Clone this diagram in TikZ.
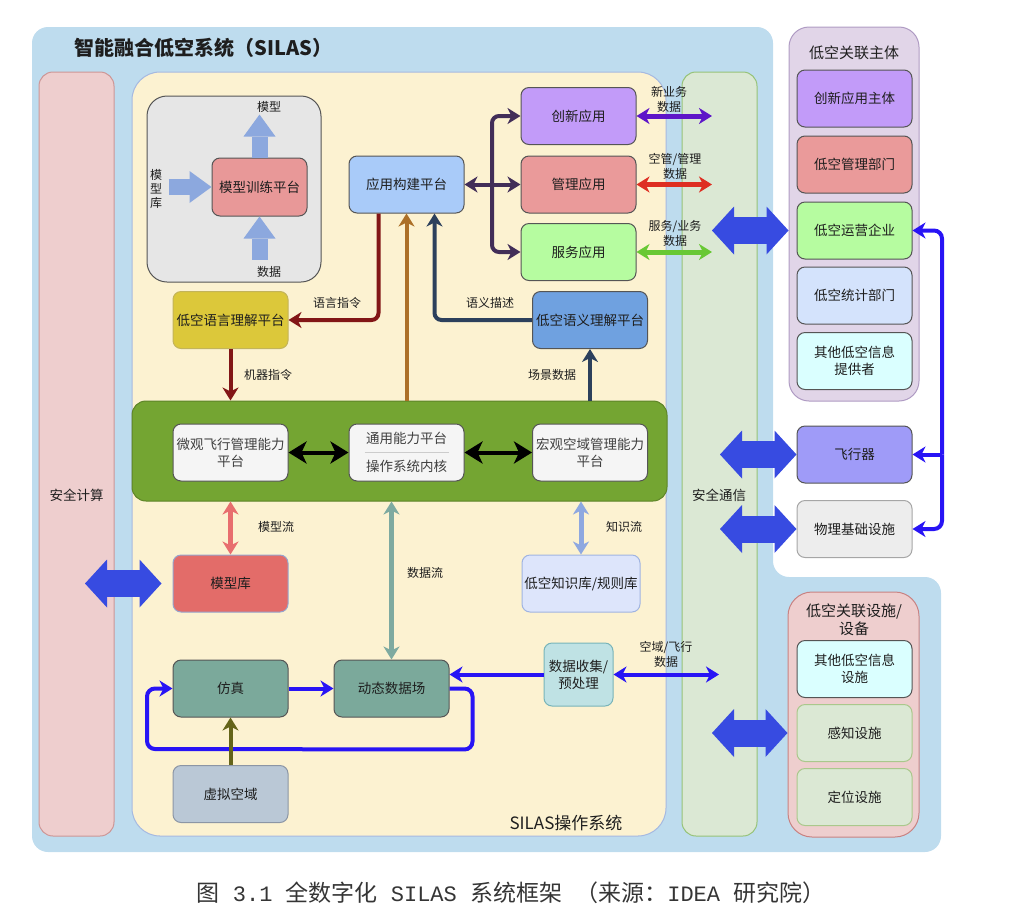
\documentclass[tikz,border=0pt]{standalone}
\usepackage{fontspec}
\setmainfont{Noto Sans CJK SC}
\newfontfamily\latmono{Liberation Mono}
\usetikzlibrary{arrows.meta,positioning}
\definecolor{sky}{RGB}{190,220,238}
\definecolor{blush}{RGB}{238,206,206}
\definecolor{blushline}{RGB}{205,150,150}
\definecolor{cream}{RGB}{252,242,209}
\definecolor{creamline}{RGB}{165,185,225}
\definecolor{sage}{RGB}{219,232,212}
\definecolor{sageline}{RGB}{150,195,120}
\definecolor{lilac}{RGB}{225,213,232}
\definecolor{lilacline}{RGB}{175,155,195}
\definecolor{rosyline}{RGB}{200,130,130}
\definecolor{ink}{RGB}{30,30,30}
\definecolor{edge}{RGB}{85,85,85}
\definecolor{grass}{RGB}{116,165,50}
\definecolor{royal}{RGB}{55,75,225}
\definecolor{wireblue}{RGB}{40,20,245}
\definecolor{maroon}{RGB}{130,22,22}
\definecolor{ochre}{RGB}{172,112,40}
\definecolor{slate}{RGB}{44,64,92}
\definecolor{plum}{RGB}{66,46,88}
\definecolor{bizviolet}{RGB}{94,22,200}
\definecolor{signal}{RGB}{222,46,34}
\definecolor{leafgreen}{RGB}{104,200,52}
\definecolor{rosy}{RGB}{232,110,110}
\definecolor{seafoam}{RGB}{126,170,160}
\definecolor{periw}{RGB}{142,168,224}
\definecolor{olivedark}{RGB}{100,100,25}
\definecolor{cornflower}{RGB}{140,168,222}
\definecolor{fLab}{RGB}{230,230,230}
\definecolor{fTrain}{RGB}{232,152,152}
\definecolor{fBuild}{RGB}{169,203,249}
\definecolor{fInnov}{RGB}{194,155,249}
\definecolor{fMgmt}{RGB}{234,154,154}
\definecolor{fSvc}{RGB}{182,252,160}
\definecolor{fLang}{RGB}{220,200,58}
\definecolor{langline}{RGB}{195,180,90}
\definecolor{fSem}{RGB}{111,161,224}
\definecolor{fCore}{RGB}{245,245,245}
\definecolor{fModel}{RGB}{227,108,105}
\definecolor{modline}{RGB}{150,165,205}
\definecolor{fKnow}{RGB}{221,229,251}
\definecolor{knowline}{RGB}{160,180,225}
\definecolor{fSim}{RGB}{123,169,155}
\definecolor{fVirt}{RGB}{186,200,214}
\definecolor{virtline}{RGB}{140,150,165}
\definecolor{fColl}{RGB}{191,226,228}
\definecolor{collline}{RGB}{120,180,185}
\definecolor{fFly}{RGB}{159,155,248}
\definecolor{fPhys}{RGB}{237,237,237}
\definecolor{fInfo}{RGB}{218,255,255}
\definecolor{fStat}{RGB}{212,227,252}
\definecolor{fSense}{RGB}{219,232,212}
\definecolor{senseline}{RGB}{170,200,140}
\newcommand\boxfont{\fontsize{13.5}{17}\selectfont}
\newcommand\lblfont{\fontsize{12}{15}\selectfont}
\newcommand\caplat{\latmono\fontsize{22}{26}\selectfont}
\tikzset{
  >={Stealth[length=13pt,width=16pt,inset=4pt]},
  box/.style={draw=edge,fill=#1,rounded corners=8pt,line width=1pt,
    minimum width=115pt,minimum height=57pt,inner sep=2pt,align=center,
    text=ink,font=\boxfont},
  box/.default=fCore,
  panel/.style={fill=#1,rounded corners=14pt,inner sep=0pt,line width=1pt},
  tag/.style={font=\lblfont,text=ink,align=center},
  pipe/.style={->,line width=4pt,draw=#1,rounded corners=7pt},
  twin/.style={<->,line width=5pt,draw=#1},
  wire/.style={->,line width=4pt,draw=wireblue,rounded corners=8pt},
  block/.style={{Triangle[width=48pt,length=22pt,line width=0pt]}-{Triangle[width=48pt,length=22pt,line width=0pt]},
    line width=27pt,draw=royal},
  fat/.style={-{Triangle[width=32pt,length=22pt,line width=0pt]},line width=16pt,draw=cornflower},
}
\begin{document}
\begin{tikzpicture}[x=1pt,y=-1pt]
  \useasboundingbox (0,0) rectangle (1021,922);
  % backdrop and columns
  \fill[sky,rounded corners=16pt] (32,27) -- (773,27) -- (773,577) -- (941,577) -- (941,852) -- (32,852) -- cycle;
  \node[panel=blush,draw=blushline,minimum width=75pt,minimum height=764pt] (safe) at (76.5,454) {};
  \node[panel=cream,draw=creamline,rounded corners=28pt,minimum width=534pt,minimum height=764pt] (osys) at (399,454) {};
  \node[panel=sage,draw=sageline,minimum width=75pt,minimum height=764pt] (comm) at (719.5,454) {};
  \node[panel=lilac,draw=lilacline,rounded corners=20pt,minimum width=130pt,minimum height=374pt] (assoc) at (854,214) {};
  \node[panel=blush,draw=rosyline,rounded corners=24pt,minimum width=131pt,minimum height=245pt] (infra) at (853.5,714.5) {};
  \node[font=\fontsize{20}{22}\selectfont\bfseries,text=ink,anchor=west] (title) at (71,48) {智能融合低空系统（SILAS）};
  \node[tag,font=\boxfont] (safetxt) at (76.5,495) {安全计算};
  \node[tag,font=\boxfont] (commtxt) at (719,495) {安全通信};
  \node[tag,font=\fontsize{17}{20}\selectfont] (ostxt) at (566,823) {SILAS操作系统};
  \node[tag,font=\fontsize{15}{18}\selectfont] (assoctxt) at (854,53) {低空关联主体};
  \node[tag,font=\fontsize{15}{18}\selectfont] (infratxt) at (854,620) {低空关联设施/\\设备};

  % model training
  \node[panel=fLab,draw=edge,rounded corners=20pt,minimum width=174pt,minimum height=186pt] (lab) at (234,189) {};
  \node[box=fTrain,minimum width=95pt,minimum height=58pt] (train) at (259.5,187) {模型训练平台};
  \draw[fat] (train.north) -- ++(0,-43);
  \draw[fat] ([xshift=-43pt]train.west) -- (train.west);
  \draw[fat] ([yshift=-43pt]train.south) -- (train.south);
  \node[tag] (mout) at (269,107) {模型};
  \node[tag] (min) at (269,272) {数据};
  \node[tag,font=\fontsize{12}{14.3}\selectfont] (mlib) at (156,189) {模\\型\\库};

  % applications
  \node[box=fBuild] (build) at (406.5,184.5) {应用构建平台};
  \node[box=fInnov] (innov) at (578.5,116) {创新应用};
  \node[box=fMgmt] (mgmt) at (578.5,184.5) {管理应用};
  \node[box=fSvc] (svc) at (578.5,252) {服务应用};
  \coordinate (fork) at (492,184.5);
  \draw[pipe=plum,<->] (build.east) -- (mgmt.west);
  \draw[pipe=plum] (fork) |- (innov.west);
  \draw[pipe=plum] (fork) |- (svc.west);
  \coordinate (rimA) at (712,116);
  \coordinate (rimB) at (712,184.5);
  \coordinate (rimC) at (712,252);
  \draw[twin=bizviolet] (innov.east) -- (rimA);
  \draw[twin=signal] (mgmt.east) -- (rimB);
  \draw[twin=leafgreen] (svc.east) -- (rimC);
  \node[tag] at (669,99.5) {新业务\\数据};
  \node[tag] at (675,166) {空管/管理\\数据};
  \node[tag] at (675,233) {服务/业务\\数据};

  % understanding platforms
  \node[box=fLang,draw=langline] (lang) at (230.5,320) {低空语言理解平台};
  \node[box=fSem] (sem) at (590,320) {低空语义理解平台};
  \draw[pipe=maroon] ([xshift=-28pt]build.south) |- (lang.east);
  \node[tag] at (337,303) {语言指令};
  \draw[pipe=slate] (sem.west) -| ([xshift=28pt]build.south);
  \node[tag] at (490,303) {语义描述};

  % capability band
  \node[panel=grass,draw=grass!80!black,minimum width=535pt,minimum height=100pt] (band) at (399.5,451) {};
  \node[box,text=ink!85] (micro) at (230.5,452.5) {微观飞行管理能力\\平台};
  \node[box,text=ink!85,font=\fontsize{13.5}{28}\selectfont] (core) at (406.5,452.5) {通用能力平台\\操作系统内核};
  \node[box,text=ink!85] (macro) at (590,452.5) {宏观空域管理能力\\平台};
  \draw[gray!40,line width=1pt] ([xshift=16pt]core.west) -- ([xshift=-16pt]core.east);
  \draw[{Stealth[length=18pt,width=22pt,inset=5pt]}-{Stealth[length=18pt,width=22pt,inset=5pt]},line width=4pt] (micro.east) -- (core.west);
  \draw[{Stealth[length=18pt,width=22pt,inset=5pt]}-{Stealth[length=18pt,width=22pt,inset=5pt]},line width=4pt] (core.east) -- (macro.west);
  \draw[pipe=maroon] (lang.south) -- (lang.south |- band.north);
  \node[tag] at (268,375) {机器指令};
  \draw[pipe=ochre] (build.south |- band.north) -- (build.south);
  \draw[pipe=slate] (sem.south |- band.north) -- (sem.south);
  \node[tag] at (552,375) {场景数据};

  % libraries and data
  \node[box=fModel,draw=modline] (modlib) at (230.5,583.5) {模型库};
  \node[box=fKnow,draw=knowline,minimum width=118pt] (kb) at (581,583.5) {低空知识库/规则库};
  \draw[twin=rosy] (modlib.north |- band.south) -- (modlib.north);
  \node[tag] at (276,527) {模型流};
  \draw[twin=periw] (kb.north |- band.south) -- (kb.north);
  \node[tag] at (624,527) {知识流};
  \node[box=fSim] (sim) at (230.5,688.5) {仿真};
  \node[box=fSim] (dyn) at (391.5,688.5) {动态数据场};
  \node[box=fVirt,draw=virtline] (virt) at (230.5,794) {虚拟空域};
  \node[box=fColl,draw=collline,minimum width=69pt,minimum height=63pt] (coll) at (578.5,674.5) {数据收集/\\预处理};
  \draw[twin=seafoam] (dyn.north |- band.south) -- (dyn.north);
  \node[tag] at (425,573) {数据流};
  \draw[wire] (sim.east) -- (dyn.west);
  \coordinate (loopbase) at (147,749);
  \draw[wire] (dyn.east) -| ++(23,61) -- (loopbase) |- (sim.west);
  \draw[wire] (coll.west) -- (coll.west -| dyn.east);
  \coordinate (airtip) at (719,674.5);
  \draw[wire,<->] (coll.east) -- (airtip);
  \node[tag] at (666,654) {空域/飞行\\数据};
  \draw[pipe=olivedark] (virt.north) -- (sim.south);

  % associated parties
  \node[box=fInnov] (subj) at (854.5,98.5) {创新应用主体};
  \node[box=fMgmt] (dept) at (854.5,164.5) {低空管理部门};
  \node[box=fSvc] (ops) at (854.5,230.5) {低空运营企业};
  \node[box=fStat] (stat) at (854.5,295.5) {低空统计部门};
  \node[box=fInfo] (prov) at (854.5,361) {其他低空信息\\提供者};
  \node[box=fFly] (fly) at (854.5,454.5) {飞行器};
  \node[box=fPhys,draw=gray!70] (phys) at (854.5,529) {物理基础设施};
  \node[box=fInfo] (facil) at (854.5,669) {其他低空信息\\设施};
  \node[box=fSense,draw=senseline] (sense) at (854.5,733) {感知设施};
  \node[box=fSense,draw=senseline] (locate) at (854.5,797) {定位设施};
  \coordinate (bus) at (942,454.5);
  \draw[wire] (bus) -- (fly.east);
  \draw[wire] (bus) |- (ops.east);
  \draw[wire] (bus) |- (phys.east);

  % secure links
  \coordinate (opsL) at (712,230.5);
  \draw[block] (opsL) -- (ops.west -| assoc.west);
  \coordinate (flyL) at (720,454.5);
  \draw[block] (flyL) -- (fly.west);
  \coordinate (physL) at (720,529);
  \draw[block] (physL) -- (phys.west);
  \coordinate (senseL) at (712,733);
  \draw[block] (senseL) -- (sense.west -| infra.west);
  \coordinate (safeR) at (85,583.5);
  \draw[block] (safeR) -- ([xshift=-11pt]modlib.west);

  \node[font=\fontsize{23}{26}\selectfont,text=ink!90,inner sep=0pt] (caption) at (511,893)
    {图{\caplat\ 3.1\ }全数字化{\caplat\ SILAS\ }系统框架{\caplat\ }（来源：{\caplat IDEA\ }研究院）};
\end{tikzpicture}
\end{document}
